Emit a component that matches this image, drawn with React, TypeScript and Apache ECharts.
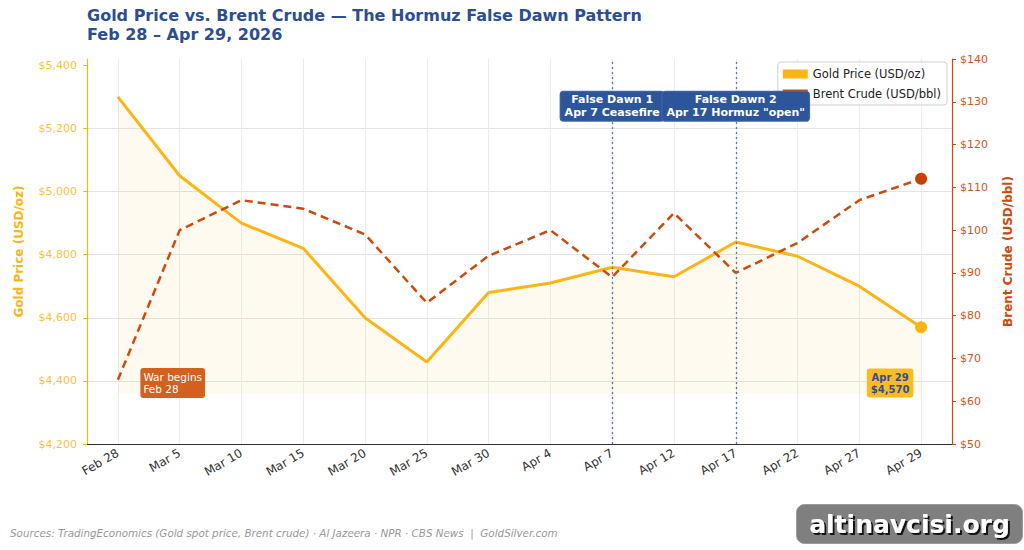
import React, { useEffect, useRef } from "react";
import * as echarts from "echarts";

const categories = ["Feb 28", "Mar 5", "Mar 10", "Mar 15", "Mar 20", "Mar 25", "Mar 30", "Apr 4", "Apr 7", "Apr 12", "Apr 17", "Apr 22", "Apr 27", "Apr 29"];
const goldPrice = [5300, 5050, 4900, 4820, 4600, 4460, 4680, 4710, 4760, 4730, 4840, 4795, 4700, 4570];
const brentCrude = [65, 100, 107, 105, 99, 83, 94, 100, 89, 104, 90, 97, 107, 112];
const goldTicks = [4200, 4400, 4600, 4800, 5000, 5200, 5400];
const falseDawns = [
  { date: "Apr 7", label: "False Dawn 1\nApr 7 Ceasefire" },
  { date: "Apr 17", label: "False Dawn 2\nApr 17 Hormuz \"open\"" },
];
const goldFillBase = 4360;
const goldAxisMin = 4200;
const goldAxisMax = 5420;
const brentAxisMin = 50;
const brentAxisMax = 140;
const annotationGoldLevel = 5270;
const bottomNoteLevel = 4393;

const GOLD = "#FDB515";
const BRENT = "#CC4A0C";
const NAVY = "#2B4E92";
const FONT = "DejaVu Sans";

export default function App() {
  const ref = useRef<HTMLDivElement>(null);
  useEffect(() => {
    if (!ref.current) return;
    const chart = echarts.init(ref.current, undefined, { renderer: "svg" });
    const last = categories.length - 1;
    const fmt = (v: number) => "$" + v.toLocaleString("en-US");
    chart.setOption({
      animation: false,
      textStyle: { fontFamily: FONT },
      title: {
        text: "Gold Price vs. Brent Crude — The Hormuz False Dawn Pattern\nFeb 28 – Apr 29, 2026",
        left: 82,
        top: 1,
        textStyle: { fontFamily: FONT, fontSize: 16, fontWeight: "bold", color: NAVY, lineHeight: 19 },
      },
      legend: {
        orient: "vertical",
        right: 77,
        top: 62,
        itemWidth: 25,
        itemHeight: 9,
        itemGap: 8,
        padding: [6, 6, 5, 5],
        backgroundColor: "rgba(255,255,255,0.85)",
        borderColor: "#d0d0d0",
        borderWidth: 1,
        borderRadius: 3,
        textStyle: { fontFamily: FONT, fontSize: 11.5, color: "#222" },
        data: [
          { name: "Gold Price (USD/oz)", icon: "rect", itemStyle: { color: GOLD } },
          { name: "Brent Crude (USD/bbl)", icon: "rect", itemStyle: { color: BRENT } },
        ],
      },
      grid: { left: 87, right: 72, top: 59, bottom: 106 },
      xAxis: {
        type: "category",
        data: categories,
        boundaryGap: true,
        axisLine: { lineStyle: { color: "#333", width: 1.2 } },
        axisTick: { alignWithLabel: true, length: 5, lineStyle: { color: "#333" } },
        axisLabel: { rotate: 30, fontSize: 12, color: "#333", margin: 8, interval: 0 },
        splitLine: { show: true, alignWithLabel: true, lineStyle: { color: "#ececec", width: 1 } },
      },
      yAxis: [
        {
          type: "value",
          min: goldAxisMin,
          max: goldAxisMax,
          position: "left",
          name: "Gold Price (USD/oz)",
          nameLocation: "middle",
          nameGap: 62,
          nameTextStyle: { color: GOLD, fontWeight: "bold", fontSize: 12, fontFamily: FONT },
          axisLine: { show: true, lineStyle: { color: GOLD, width: 1.2 } },
          axisTick: { show: true, length: 4, customValues: goldTicks, lineStyle: { color: GOLD } },
          axisLabel: { color: "#FBBF3A", fontSize: 11, margin: 10, customValues: goldTicks, formatter: (v: number) => fmt(v) },
          splitLine: { show: true, showMaxLine: false, lineStyle: { color: "#e4e4e4", width: 1 } },
        },
        {
          type: "value",
          min: brentAxisMin,
          max: brentAxisMax,
          interval: 10,
          position: "right",
          name: "Brent Crude (USD/bbl)",
          nameLocation: "middle",
          nameGap: 50,
          nameRotate: 90,
          nameTextStyle: { color: BRENT, fontWeight: "bold", fontSize: 12, fontFamily: FONT },
          axisLine: { show: true, lineStyle: { color: BRENT, width: 1.2 } },
          axisTick: { show: true, length: 4, lineStyle: { color: BRENT } },
          axisLabel: { color: "#D3561A", fontSize: 11, formatter: (v: number) => "$" + v },
          splitLine: { show: false },
        },
      ],
      series: [
        {
          name: "Gold Price (USD/oz)",
          type: "line",
          yAxisIndex: 0,
          symbol: "none",
          data: goldPrice.map((v, i) =>
            i === last ? { value: v, symbol: "circle", symbolSize: 12, itemStyle: { color: GOLD } } : v
          ),
          lineStyle: { color: GOLD, width: 3 },
          itemStyle: { color: GOLD },
          areaStyle: { color: "rgba(253,181,21,0.09)", origin: goldFillBase },
          z: 3,
          markLine: {
            silent: true,
            symbol: ["none", "none"],
            label: { show: false },
            lineStyle: { color: "#5A78B0", type: [2, 3], width: 1.3 },
            data: falseDawns.map((d) => ({ xAxis: d.date })),
          },
          markPoint: {
            silent: true,
            symbol: "circle",
            symbolSize: 1,
            itemStyle: { color: "rgba(0,0,0,0)" },
            data: [
              ...falseDawns.map((d) => ({
                coord: [d.date, annotationGoldLevel],
                label: {
                  show: true,
                  position: "inside",
                  formatter: d.label,
                  color: "#fff",
                  fontWeight: "bold",
                  fontSize: 11,
                  lineHeight: 13,
                  align: "center",
                  backgroundColor: "#2D5599",
                  borderColor: "#4468A8",
                  borderWidth: 1,
                  borderRadius: 3,
                  padding: [2, 4, 1, 4],
                },
              })),
              {
                coord: [categories[0], bottomNoteLevel],
                label: {
                  show: true,
                  position: "right",
                  distance: 22,
                  formatter: "War begins\nFeb 28",
                  color: "#fff",
                  fontSize: 10.5,
                  lineHeight: 12,
                  align: "left",
                  backgroundColor: "#D4601E",
                  borderRadius: 3,
                  padding: [3, 3, 3, 3],
                },
              },
              {
                coord: [categories[last], bottomNoteLevel],
                label: {
                  show: true,
                  position: "inside",
                  offset: [-31, 0],
                  formatter: "Apr 29\n" + fmt(goldPrice[last]),
                  color: NAVY,
                  fontWeight: "bold",
                  fontSize: 10,
                  lineHeight: 12,
                  align: "center",
                  backgroundColor: "#FDBB22",
                  borderRadius: 3,
                  padding: [3, 4, 2, 4],
                },
              },
            ],
          },
        },
        {
          name: "Brent Crude (USD/bbl)",
          type: "line",
          yAxisIndex: 1,
          symbol: "none",
          data: brentCrude.map((v, i) =>
            i === last ? { value: v, symbol: "circle", symbolSize: 12, itemStyle: { color: "#C94100" } } : v
          ),
          lineStyle: { color: BRENT, width: 2.5, type: [8, 5] },
          itemStyle: { color: BRENT },
          z: 4,
        },
      ],
      graphic: [
        {
          type: "text",
          left: 10,
          top: 528,
          style: {
            text: "Sources: TradingEconomics (Gold spot price, Brent crude) · Al Jazeera · NPR · CBS News  |  GoldSilver.com",
            fill: "#999",
            font: "italic 10.35px 'DejaVu Sans'",
          },
        },
        {
          type: "group",
          left: 796,
          top: 504,
          children: [
            {
              type: "rect",
              shape: { x: 0, y: 0, width: 226, height: 39, r: 8 },
              style: { fill: "#7f7f7f", stroke: "#9a9a9a", lineWidth: 1 },
            },
            {
              type: "text",
              x: 113,
              y: 19.5,
              style: {
                text: "altinavcisi.org",
                fill: "#fff",
                font: "bold 25px 'DejaVu Sans'",
                align: "center",
                verticalAlign: "middle",
                textShadowColor: "rgba(0,0,0,0.85)",
                textShadowOffsetX: 2,
                textShadowOffsetY: 2,
                textShadowBlur: 1,
              },
            },
          ],
        },
      ],
    });
    return () => chart.dispose();
  }, []);
  return <div ref={ref} style={{ width: 1024, height: 550, position: "absolute", left: 0, top: 0 }} />;
}
